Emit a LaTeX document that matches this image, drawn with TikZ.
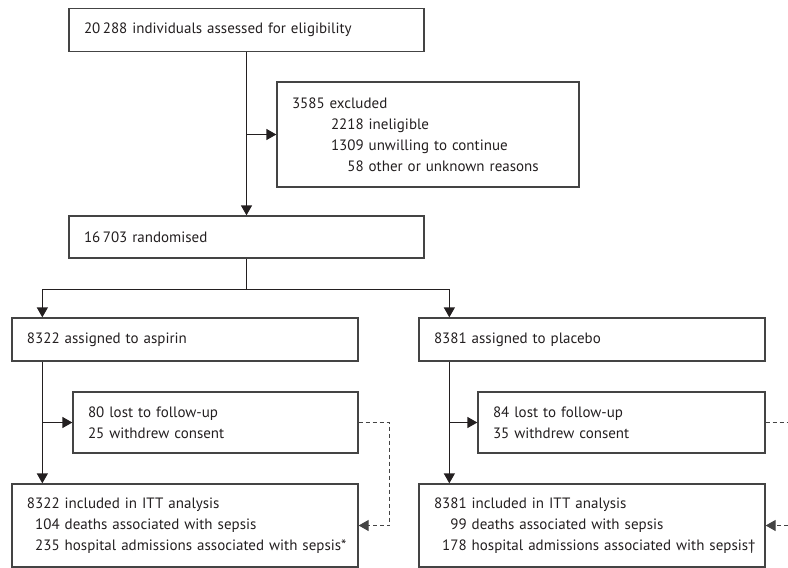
\documentclass[tikz,border=0pt]{standalone}
\usepackage{fontspec}
\setmainfont{PT Sans}
\usetikzlibrary{arrows.meta,calc}
\definecolor{boxgray}{HTML}{444444}
\definecolor{inkc}{HTML}{231F20}
\begin{document}
\begin{tikzpicture}[x=1pt,y=-1pt,
  box/.style={draw=boxgray,line width=1.3pt,rectangle,inner xsep=15pt,inner ysep=0pt,
    align=left,text=inkc,font=\fontsize{15}{21}\selectfont,anchor=center},
  conn/.style={draw=inkc,line width=1.3pt},
  arr/.style={conn,-{Triangle[length=10pt,width=11pt]}},
  dsh/.style={draw=boxgray,line width=1.2pt,dash pattern=on 4pt off 3pt}]
\useasboundingbox (0,0) rectangle (788,568);

\node[box,text width=325pt,minimum height=43pt] (b1) at (246.5,30) {\mbox{20\,288 individuals assessed for eligibility}};
\node[box,text width=272pt,minimum height=105pt] (excl) at (428,134.5) {3585 excluded\\
\hspace*{39pt}2218 ineligible\\
\hspace*{39pt}1309 unwilling to continue\\
\hspace*{39pt}\phantom{13}\mbox{58 other or unknown reasons}};
\node[box,text width=325pt,minimum height=42pt] (rand) at (246.5,237) {16\,703 randomised};
\node[box,text width=316pt,minimum height=43pt] (asp) at (185,339.5) {8322 assigned to aspirin};
\node[box,text width=316pt,minimum height=43pt] (pla) at (592,339.5) {8381 assigned to placebo};
\node[box,text width=255pt,minimum height=61pt] (lostA) at (215.5,422.5) {80 lost to follow-up\\25 withdrew consent};
\node[box,text width=257pt,minimum height=61pt] (lostP) at (621.5,422.5) {84 lost to follow-up\\35 withdrew consent};
\node[box,text width=316pt,minimum height=83pt] (ittA) at (185,525.5) {8322 included in ITT analysis\\
\phantom{0}\mbox{104 deaths associated with sepsis}\\
\phantom{0}\mbox{235 hospital admissions associated with sepsis*}};
\node[box,text width=316pt,minimum height=83pt] (ittP) at (592,525.5) {8381 included in ITT analysis\\
\phantom{00}\mbox{99 deaths associated with sepsis}\\
\phantom{0}\mbox{178 hospital admissions associated with sepsis†}};

\coordinate (split) at ($(rand.south)+(0,31)$);
\coordinate (aspIn) at ($(asp.north west)+(31,0)$);
\coordinate (plaIn) at ($(pla.north west)+(31,0)$);
\coordinate (ittAIn) at ($(ittA.north west)+(31,0)$);
\coordinate (ittPIn) at ($(ittP.north west)+(31,0)$);
\coordinate (dA) at ($(lostA.east)+(31,0)$);
\coordinate (edge) at (788,0);

\draw[arr] (b1.south) -- (rand.north);
\draw[arr] (b1.south |- excl.west) -- (excl.west);
\draw[conn] (rand.south) -- (split);
\draw[arr] (split) -| (aspIn);
\draw[arr] (split) -| (plaIn);
\draw[arr] (aspIn |- asp.south) -- (ittAIn);
\draw[arr] (aspIn |- lostA.west) -- (lostA.west);
\draw[arr] (plaIn |- pla.south) -- (ittPIn);
\draw[arr] (plaIn |- lostP.west) -- (lostP.west);
\draw[dsh,-{Triangle[length=10pt,width=11pt]}] (lostA.east) -- (dA) |- (ittA.east);
\draw[dsh] (lostP.east) -- (lostP.east -| edge);
\draw[dsh,-{Triangle[length=10pt,width=11pt]}] (ittP.east -| edge) -- (ittP.east);
\end{tikzpicture}
\end{document}
